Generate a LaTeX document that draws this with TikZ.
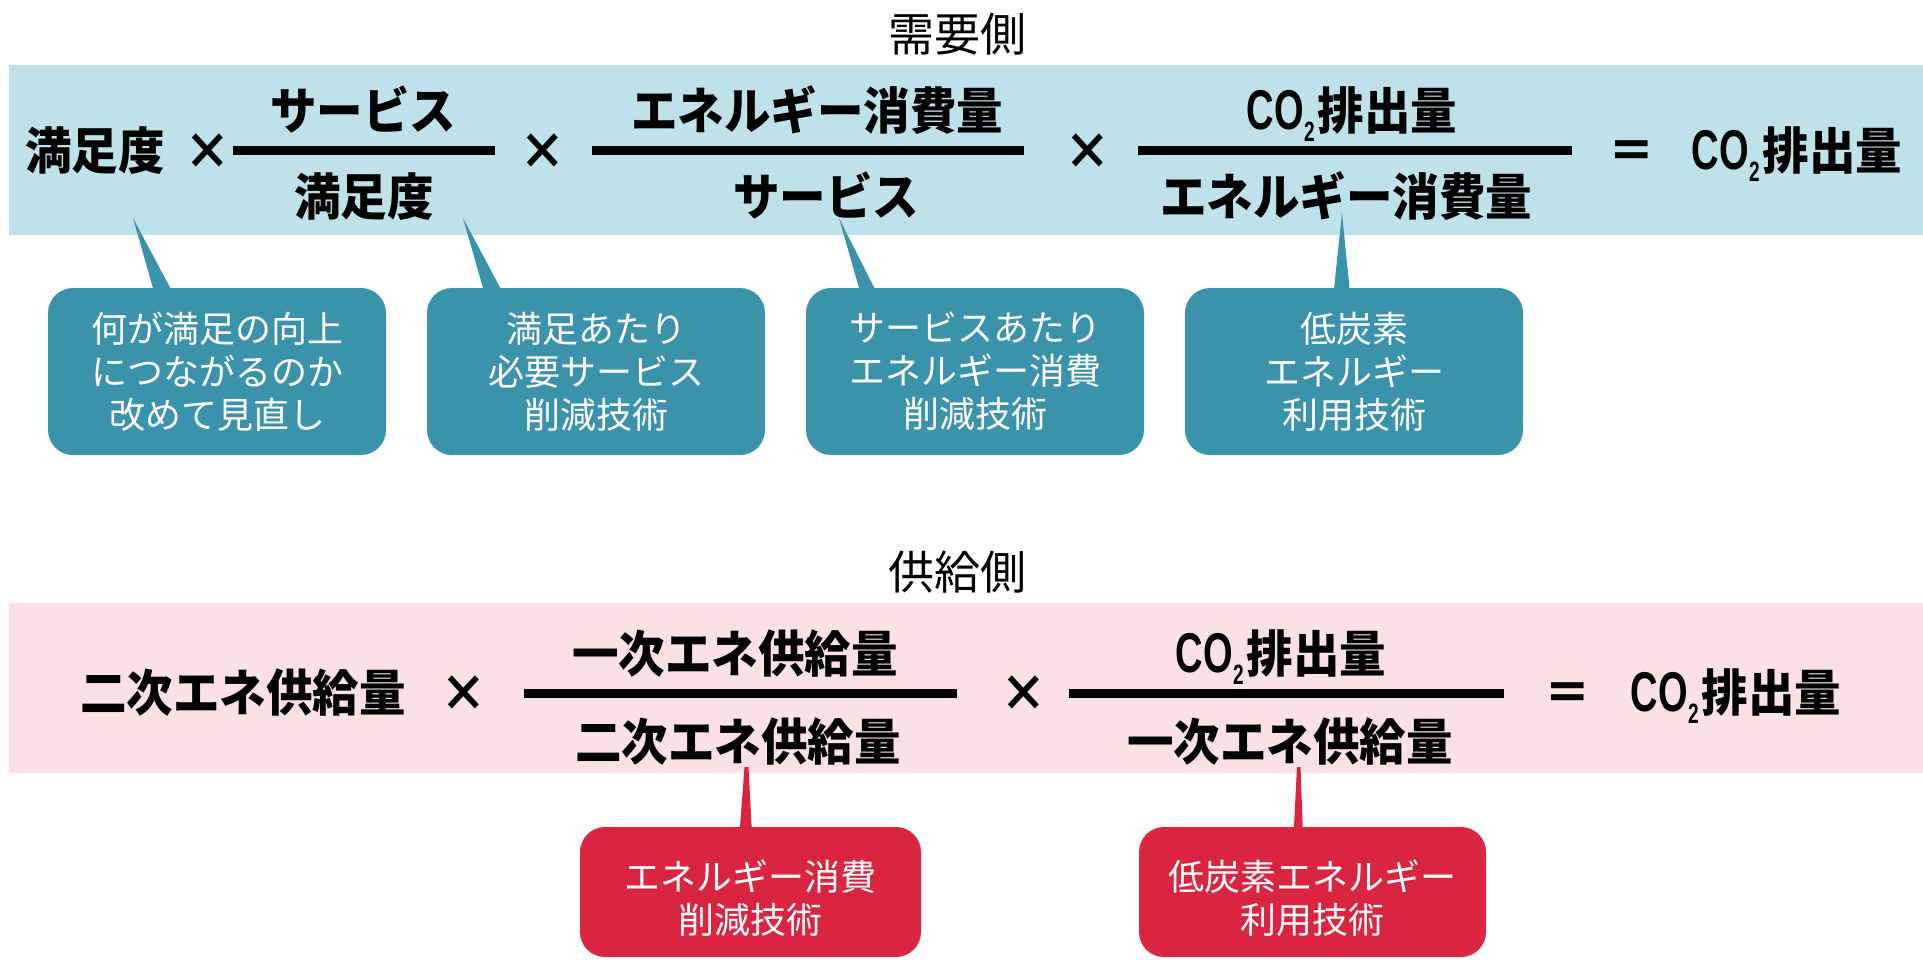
\documentclass[tikz,border=0pt]{standalone}
\usepackage{fontspec}
\usepackage{graphicx}
\usetikzlibrary{calc}
\newfontfamily\jpr{Noto Sans CJK JP}
\newfontfamily\jpb{Noto Sans CJK JP}[FakeStretch=0.93]
\newfontfamily\latr{Liberation Sans}
\newcommand\COtwo{\scalebox{0.68}[1]{\latr\fontsize{56}{56}\selectfont CO\raisebox{-12pt}{\fontsize{28}{28}\selectfont 2}}\hspace{3pt}}
\definecolor{cteal}{HTML}{3A92AB}
\definecolor{cred}{HTML}{DA2540}
\definecolor{cblue}{HTML}{BFE1EA}
\definecolor{cpink}{HTML}{FAE1E5}
\begin{document}
\begin{tikzpicture}[x=1pt,y=-1pt,
  eq/.style={anchor=base,inner sep=0pt,font=\jpb\bfseries\fontsize{50}{50}\selectfont},
  ttl/.style={anchor=base,inner sep=0pt,font=\jpr\fontsize{46}{46}\selectfont},
  fracline/.style={line width=9pt},
  tealbox/.style={fill=cteal,rounded corners=25pt,minimum width=338pt,minimum height=167pt,
    align=center,text=white,inner sep=0pt,font=\jpr\fontsize{36}{43}\selectfont},
  redbox/.style={fill=cred,rounded corners=25pt,minimum height=130pt,inner sep=0pt},
  redtext/.style={align=center,text=white,inner sep=0pt,font=\jpr\fontsize{36}{43}\selectfont}
]
\useasboundingbox (0,0) rectangle (1923,959);
% bands
\fill[cblue] (9,65) rectangle (1923,235);
\fill[cpink] (9,603) rectangle (1923,773);
% titles
\node[ttl] (t1) at (957,51) {需要側};
\node[ttl] (t2) at (957,589) {供給側};
% demand side equation
\node[eq] (a1) at (95,169) {満足度};
\node[eq] (x1) at (208,169) {×};
\coordinate (l1a) at (233,150); \coordinate (l1b) at (495,150);
\draw[fracline] (l1a) -- (l1b);
\node[eq] (n1) at (363,129) {サービス};
\node[eq] (d1) at (364,215) {満足度};
\node[eq] (x2) at (543,169) {×};
\coordinate (l2a) at (592,150); \coordinate (l2b) at (1024,150);
\draw[fracline] (l2a) -- (l2b);
\node[eq] (n2) at (817,129) {エネルギー消費量};
\node[eq] (d2) at (826,215) {サービス};
\node[eq] (x3) at (1088,169) {×};
\coordinate (l3a) at (1138,150); \coordinate (l3b) at (1572,150);
\draw[fracline] (l3a) -- (l3b);
\node[eq] (n3) at (1352,129) {\COtwo 排出量};
\node[eq] (d3) at (1346,215) {エネルギー消費量};
\node[eq] (e1) at (1632,169) {＝};
\node[eq] (r1) at (1797,169) {\COtwo 排出量};
% teal callouts
\node[tealbox] (b1) at (217,371.5) {何が満足の向上\\につながるのか\\改めて見直し};
\node[tealbox] (b2) at (596,371.5) {満足あたり\\必要サービス\\削減技術};
\node[tealbox] (b3) at (975,371.5) {サービスあたり\\エネルギー消費\\削減技術};
\node[tealbox] (b4) at (1354,371.5) {低炭素\\エネルギー\\利用技術};
\coordinate (p1) at (133,218);
\coordinate (p2) at (463,218);
\coordinate (p3) at (839,218);
\coordinate (p4) at (1342,213);
\fill[cteal] (p1) -- ($(b1.north west)+(106,3)$) -- ($(b1.north west)+(124,3)$) -- cycle;
\fill[cteal] (p2) -- ($(b2.north west)+(57,3)$) -- ($(b2.north west)+(75,3)$) -- cycle;
\fill[cteal] (p3) -- ($(b3.north west)+(54,3)$) -- ($(b3.north west)+(70,3)$) -- cycle;
\fill[cteal] (p4) -- ($(b4.north west)+(149,3)$) -- ($(b4.north west)+(165,3)$) -- cycle;
% supply side equation
\node[eq] (a2) at (243,711) {二次エネ供給量};
\node[eq] (x4) at (464,711) {×};
\coordinate (m1a) at (524,693); \coordinate (m1b) at (957,693);
\draw[fracline] (m1a) -- (m1b);
\node[eq] (n4) at (735,672) {一次エネ供給量};
\node[eq] (d4) at (738,760) {二次エネ供給量};
\node[eq] (x5) at (1024,711) {×};
\coordinate (m2a) at (1069,693); \coordinate (m2b) at (1504,693);
\draw[fracline] (m2a) -- (m2b);
\node[eq] (n5) at (1281,672) {\COtwo 排出量};
\node[eq] (d5) at (1290,760) {一次エネ供給量};
\node[eq] (e2) at (1568,711) {＝};
\node[eq] (r2) at (1736,711) {\COtwo 排出量};
% red callouts
\node[redbox,minimum width=341pt] (rA) at (750.5,892) {};
\node[redbox,minimum width=347pt] (rB) at (1312.5,892) {};
\node[redtext] (rAt) at (750,898.5) {エネルギー消費\\削減技術};
\node[redtext] (rBt) at (1312,898.5) {低炭素エネルギー\\利用技術};
\coordinate (qA1) at (744.5,767); \coordinate (qA2) at (748.5,767);
\coordinate (qB1) at (1297,767); \coordinate (qB2) at (1300.5,767);
\fill[cred] (qA1) -- (qA2) -- ($(rA.north west)+(172,3)$) -- ($(rA.north west)+(160,3)$) -- cycle;
\fill[cred] (qB1) -- (qB2) -- ($(rB.north west)+(164,3)$) -- ($(rB.north west)+(155,3)$) -- cycle;
\end{tikzpicture}
\end{document}
